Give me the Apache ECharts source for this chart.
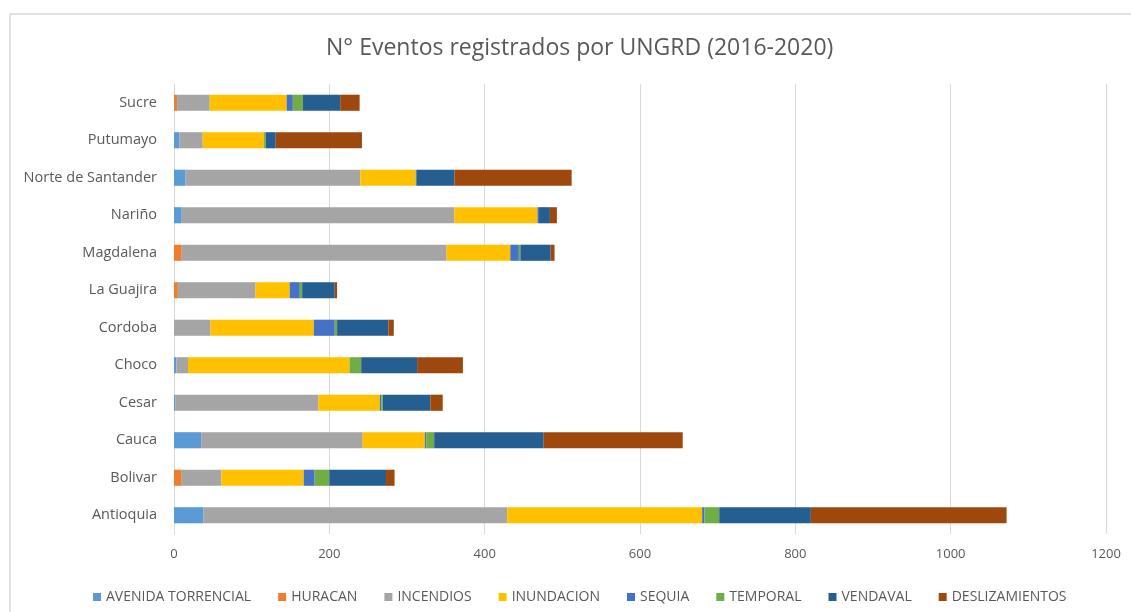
<!DOCTYPE html>
<html>
<head>
<meta charset="utf-8">
<title>N° Eventos registrados por UNGRD (2016-2020)</title>
<script src="https://cdn.jsdelivr.net/npm/echarts@6/dist/echarts.min.js"></script>
<style>
  html, body { margin: 0; padding: 0; background: #ffffff; }
  #chart { width: 1131px; height: 612px; }
</style>
</head>
<body>
<div id="chart"></div>
<script>
// Departments, listed bottom to top on the category axis
const departamentos = ['Antioquia', 'Bolivar', 'Cauca', 'Cesar', 'Choco', 'Cordoba',
  'La Guajira', 'Magdalena', 'Nariño', 'Norte de Santander', 'Putumayo', 'Sucre'];

// Event counts per type, same order as departamentos
const avenidaTorrencial = [38, 0, 35, 2, 3, 0, 0, 0, 10, 15, 7, 0];
const huracan           = [0, 10, 0, 0, 0, 0, 5, 10, 0, 0, 0, 4];
const incendios         = [391, 51, 208, 184, 15, 47, 100, 341, 351, 225, 30, 42];
const inundacion        = [251, 106, 80, 79, 208, 133, 44, 82, 107, 71, 79, 99];
const sequia            = [3, 14, 2, 2, 0, 27, 13, 11, 2, 0, 0, 8];
const temporal          = [19, 19, 10, 2, 15, 3, 3, 2, 0, 1, 2, 13];
const vendaval          = [118, 73, 141, 61, 72, 66, 42, 39, 14, 49, 13, 48];
const deslizamientos    = [252, 11, 179, 16, 59, 7, 3, 5, 9, 151, 111, 25];

const xTicks = [0, 200, 400, 600, 800, 1000, 1200];

const seriesDefs = [
  { name: 'AVENIDA TORRENCIAL', data: avenidaTorrencial, color: '#5B9BD5' },
  { name: 'HURACAN',            data: huracan,           color: '#ED7D31' },
  { name: 'INCENDIOS',          data: incendios,         color: '#A5A5A5' },
  { name: 'INUNDACION',         data: inundacion,        color: '#FFC000' },
  { name: 'SEQUIA',             data: sequia,            color: '#4472C4' },
  { name: 'TEMPORAL',           data: temporal,          color: '#70AD47' },
  { name: 'VENDAVAL',           data: vendaval,          color: '#255E91' },
  { name: 'DESLIZAMIENTOS',     data: deslizamientos,    color: '#9E480E' }
];

const FONT = '"Open Sans", "Noto Sans", sans-serif';
const TEXT = '#595959';

const chart = echarts.init(document.getElementById('chart'), null, { renderer: 'canvas' });

chart.setOption({
  backgroundColor: '#ffffff',
  animation: false,
  textStyle: { fontFamily: FONT },
  graphic: [{
    type: 'rect',
    shape: { x: 10, y: 14, width: 1140, height: 620 },
    style: { fill: 'none', stroke: '#d9d9d9', lineWidth: 1.5 },
    silent: true
  }],
  title: {
    text: 'N° Eventos registrados por UNGRD (2016-2020)',
    left: 321,
    top: 32,
    textStyle: { fontFamily: FONT, fontSize: 23, fontWeight: 'normal', color: TEXT }
  },
  legend: {
    top: 585,
    left: 88,
    itemWidth: 8,
    itemHeight: 8,
    itemGap: 27,
    icon: 'rect',
    textStyle: { fontFamily: FONT, fontSize: 14, color: TEXT },
    data: seriesDefs.map(s => s.name)
  },
  grid: { left: 174, right: 25, top: 84, bottom: 78, containLabel: false },
  xAxis: {
    type: 'value',
    min: xTicks[0],
    max: xTicks[xTicks.length - 1],
    interval: 200,
    axisLine: { show: false },
    axisTick: { show: false },
    axisLabel: { color: TEXT, fontSize: 13, margin: 14, fontFamily: FONT, formatter: v => String(v) },
    splitLine: { show: true, lineStyle: { color: '#d9d9d9', width: 1 } }
  },
  yAxis: {
    type: 'category',
    data: departamentos,
    axisLine: { show: true, lineStyle: { color: '#d9d9d9', width: 1 } },
    axisTick: { show: false },
    axisLabel: { color: TEXT, fontSize: 14.5, margin: 17, fontFamily: FONT },
    splitLine: { show: false }
  },
  series: seriesDefs.map(s => ({
    name: s.name,
    type: 'bar',
    stack: 'total',
    barWidth: '43%',
    data: s.data,
    itemStyle: { color: s.color },
    emphasis: { disabled: true }
  }))
});
</script>
</body>
</html>
